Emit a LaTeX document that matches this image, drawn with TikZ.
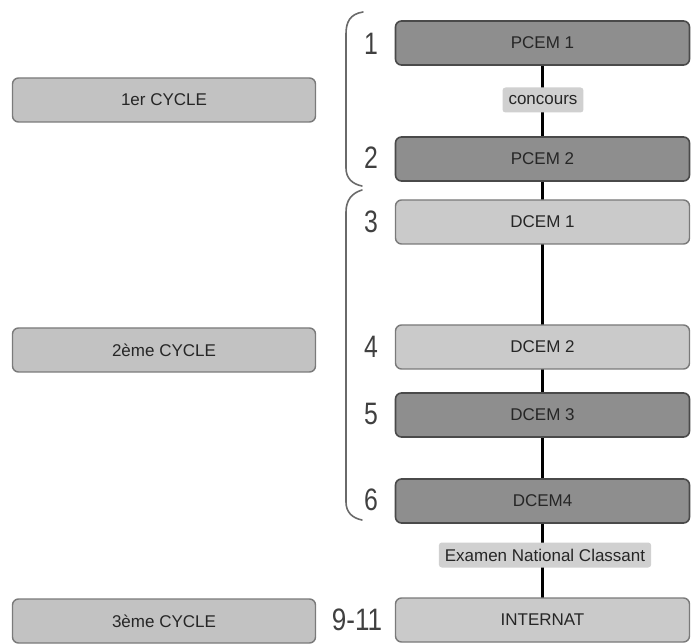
\documentclass[tikz,border=0pt]{standalone}
\usepackage{fontspec}
\setmainfont{Liberation Sans}
\usetikzlibrary{backgrounds}
\definecolor{darkfill}{HTML}{8E8E8E}
\definecolor{darkline}{HTML}{4A4A4A}
\definecolor{lightfill}{HTML}{CACACA}
\definecolor{lightline}{HTML}{7A7A7A}
\definecolor{leftfill}{HTML}{C2C2C2}
\definecolor{tagfill}{HTML}{D0D0D0}
\definecolor{bracecol}{HTML}{6A6A6A}
\tikzset{
  boxfont/.style={font=\fontsize{17}{19}\selectfont, text=black!85},
  darkbox/.style={draw=darkline, line width=1.6pt, fill=darkfill, rounded corners=6pt,
    minimum width=294pt, minimum height=44pt, inner sep=0pt, boxfont},
  lightbox/.style={draw=lightline, line width=1.4pt, fill=lightfill, rounded corners=6pt,
    minimum width=294pt, minimum height=44pt, inner sep=0pt, boxfont},
  leftbox/.style={draw=lightline, line width=1.4pt, fill=leftfill, rounded corners=6pt,
    minimum width=303pt, minimum height=44pt, inner sep=0pt, boxfont},
  tagbox/.style={fill=tagfill, rounded corners=3pt, inner xsep=6pt, inner ysep=0pt,
    minimum height=25pt, boxfont},
  num/.style={font=\fontsize{31}{33}\selectfont, text=black!75, xscale=0.8, inner sep=0pt},
  bracestyle/.style={draw=bracecol, line width=1.6pt, line cap=round}
}
\begin{document}
\begin{tikzpicture}[x=1pt, y=-1pt]
\useasboundingbox (0,0) rectangle (691,644);
% left boxes
\node[leftbox] (c1) at (164,100) {1er CYCLE};
\node[leftbox] (c2) at (164,350) {2ème CYCLE};
\node[leftbox] (c3) at (164,621) {3ème CYCLE};
% right boxes
\node[darkbox] (p1) at (542.5,43) {PCEM 1};
\node[tagbox] (conc) at (543,100) {concours};
\node[darkbox] (p2) at (542.5,159) {PCEM 2};
\node[lightbox] (d1) at (542.5,222) {DCEM 1};
\node[lightbox] (d2) at (542.5,347) {DCEM 2};
\node[darkbox] (d3) at (542.5,415) {DCEM 3};
\node[darkbox] (d4) at (542.5,501) {DCEM4};
\node[tagbox] (enc) at (545,555) {Examen National Classant};
\node[lightbox] (int) at (542.5,620) {INTERNAT};
% numbers
\node[num] (n1) at (371,44) {1};
\node[num] (n2) at (371,158) {2};
\node[num] (n3) at (371,222) {3};
\node[num] (n4) at (371,347) {4};
\node[num] (n5) at (371,414) {5};
\node[num] (n6) at (371,500) {6};
\node[num, xscale=1.05] (n9) at (357,620) {9-11};
% connector line
\begin{scope}[on background layer]
\draw[line width=3.5pt, black] (p1.center) -- (int.center);
\end{scope}
% braces
\coordinate (b1t) at (363,12);
\coordinate (b1b) at (362,186);
\coordinate (b2t) at (362,190);
\coordinate (b2b) at (362,520);
\draw[bracestyle] (b1t) .. controls (350,14) and (346,22) .. (346,34) -- (346,168) .. controls (346,178) and (352,184) .. (b1b);
\draw[bracestyle] (b2t) .. controls (352,193) and (346,200) .. (346,212) -- (346,502) .. controls (346,512) and (352,518) .. (b2b);
\end{tikzpicture}
\end{document}
